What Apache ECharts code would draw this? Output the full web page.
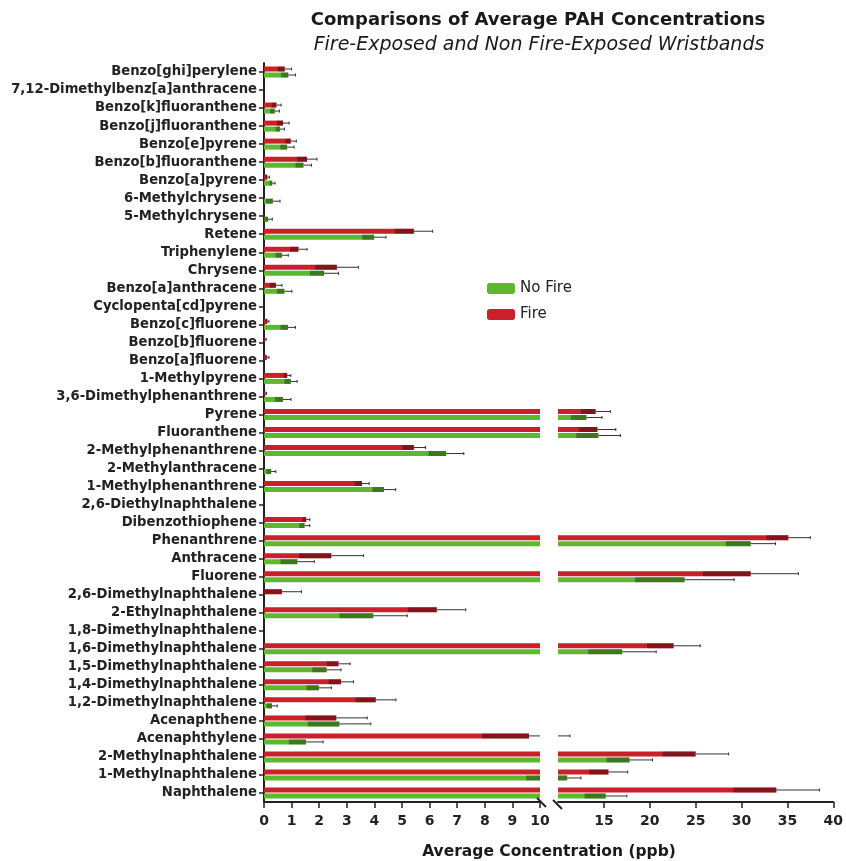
<!DOCTYPE html>
<html>
<head>
<meta charset="utf-8">
<script src="https://cdn.jsdelivr.net/npm/echarts@6/dist/echarts.min.js"></script>
<style>
  html, body { margin: 0; padding: 0; background: #fff; }
  #main { width: 846px; height: 861px; }
</style>
</head>
<body>
<div id="main"></div>
<script>
// compounds, top to bottom as in the figure
const categories = [
  'Benzo[ghi]perylene', '7,12-Dimethylbenz[a]anthracene', 'Benzo[k]fluoranthene',
  'Benzo[j]fluoranthene', 'Benzo[e]pyrene', 'Benzo[b]fluoranthene', 'Benzo[a]pyrene',
  '6-Methylchrysene', '5-Methylchrysene', 'Retene', 'Triphenylene', 'Chrysene',
  'Benzo[a]anthracene', 'Cyclopenta[cd]pyrene', 'Benzo[c]fluorene', 'Benzo[b]fluorene',
  'Benzo[a]fluorene', '1-Methylpyrene', '3,6-Dimethylphenanthrene', 'Pyrene',
  'Fluoranthene', '2-Methylphenanthrene', '2-Methylanthracene', '1-Methylphenanthrene',
  '2,6-Diethylnaphthalene', 'Dibenzothiophene', 'Phenanthrene', 'Anthracene', 'Fluorene',
  '2,6-Dimethylnaphthalene', '2-Ethylnaphthalene', '1,8-Dimethylnaphthalene',
  '1,6-Dimethylnaphthalene', '1,5-Dimethylnaphthalene', '1,4-Dimethylnaphthalene',
  '1,2-Dimethylnaphthalene', 'Acenaphthene', 'Acenaphthylene', '2-Methylnaphthalene',
  '1-Methylnaphthalene', 'Naphthalene'
]

const fireMean = [
  0.75, 0, 0.45, 0.69, 0.97, 1.56, 0.12, 0, 0, 5.43, 1.25, 2.64, 0.43, 0, 0.12, 0.04,
  0.1, 0.84, 0.05, 14.1, 14.3, 5.43, 0, 3.55, 0, 1.53, 35.1, 2.44, 31.0, 0.65, 6.26, 0,
  22.6, 2.7, 2.79, 4.05, 2.62, 9.6, 25.0, 15.5, 33.8
]
const fireErr = [
  0.25, 0, 0.17, 0.22, 0.2, 0.36, 0.08, 0, 0, 0.68, 0.31, 0.78, 0.22, 0, 0.06, 0.04,
  0.08, 0.13, 0.04, 1.6, 2.0, 0.42, 0, 0.26, 0, 0.13, 2.4, 1.17, 5.2, 0.71, 1.05, 0,
  2.9, 0.42, 0.45, 0.73, 1.12, 1.7, 3.6, 2.1, 4.7
]
const noFireMean = [
  0.88, 0, 0.39, 0.58, 0.84, 1.43, 0.3, 0.32, 0.15, 3.99, 0.65, 2.18, 0.74, 0, 0.87, 0,
  0, 0.97, 0.69, 13.1, 14.4, 6.6, 0.26, 4.35, 0, 1.47, 31.0, 1.21, 23.8, 0, 3.96, 0,
  17.0, 2.27, 1.99, 0.29, 2.73, 1.52, 17.8, 11.0, 15.2
]
const noFireErr = [
  0.26, 0, 0.17, 0.16, 0.25, 0.29, 0.1, 0.26, 0.15, 0.43, 0.23, 0.52, 0.27, 0, 0.27, 0,
  0, 0.23, 0.29, 1.7, 2.4, 0.64, 0.17, 0.42, 0, 0.19, 2.7, 0.61, 5.4, 0, 1.23, 0,
  3.7, 0.52, 0.45, 0.19, 1.14, 0.62, 2.5, 1.5, 2.3
]

const leftTicks = [0, 1, 2, 3, 4, 5, 6, 7, 8, 9, 10]
const rightTicks = [15, 20, 25, 30, 35, 40]

const GREEN = '#5db830'
const RED = '#c9202a'
const FONT = 'DejaVu Sans, Verdana, sans-serif'
const BAR_W = 5
const G0 = { left: 264, top: 63, width: 276, height: 739 }
const G1 = { left: 558, top: 63, width: 277, height: 739 }

let myChart = echarts.init(document.getElementById('main'))

// error bar: dark band for the lower half (inside the bar), thin whisker + cap above
function errItem(offset) {
  return function (params, api) {
    const v = api.value(0), cat = api.value(1), e = api.value(2)
    if (!e) return
    const cs = params.coordSys
    const x0 = cs.x, x1 = cs.x + cs.width
    const clamp = x => Math.max(x0, Math.min(x1, x))
    const pm = api.coord([v, cat])
    const plo = api.coord([v - e, cat])
    const phi = api.coord([v + e, cat])
    if (phi[0] <= x0 || plo[0] >= x1) return
    const y = pm[1] + offset
    const lo = clamp(plo[0]), m = clamp(pm[0]), hi = clamp(phi[0])
    const children = []
    if (m > lo) {
      children.push({
        type: 'rect',
        shape: { x: lo, y: y - BAR_W / 2, width: m - lo, height: BAR_W },
        style: { fill: 'rgba(0,0,0,0.35)' }
      })
    }
    if (hi > m) {
      children.push({
        type: 'line',
        shape: { x1: m, y1: y, x2: hi, y2: y },
        style: { stroke: '#333', lineWidth: 1 }
      })
    }
    if (phi[0] <= x1) {
      children.push({
        type: 'line',
        shape: { x1: hi, y1: y - 1.5, x2: hi, y2: y + 1.5 },
        style: { stroke: '#333', lineWidth: 1 }
      })
    }
    return { type: 'group', children: children }
  }
}

const errData = (mean, err) => mean.map((v, i) => [v, i, err[i]])
const over10 = arr => arr.map(v => (v > 10 ? v : null))

const yLabel = {
  fontFamily: FONT, fontWeight: 'bold', fontSize: 13.2, color: '#222', margin: 7
}
const xLabel = {
  fontFamily: FONT, fontWeight: 'bold', fontSize: 14, color: '#222', margin: 12
}
const axisLine = { show: true, lineStyle: { color: '#222', width: 2 } }
const axisTick = { show: true, length: 6, lineStyle: { color: '#222', width: 1.5 } }

const bottomY = G0.top + G0.height
const breakX0 = G0.left + G0.width
const breakX1 = G1.left

myChart.setOption({
  animation: false,
  backgroundColor: '#fff',
  grid: [
    Object.assign({ containLabel: false }, G0),
    Object.assign({ containLabel: false }, G1)
  ],
  legend: {
    orient: 'vertical',
    left: 482,
    top: 276,
    itemWidth: 28,
    itemHeight: 11,
    itemGap: 11,
    textStyle: { fontFamily: FONT, fontSize: 15, color: '#222' },
    data: ['No Fire', 'Fire']
  },
  xAxis: [
    {
      gridIndex: 0, type: 'value', min: 0, max: 10, interval: 1,
      splitLine: { show: false }, axisLine, axisTick,
      axisLabel: Object.assign({ customValues: leftTicks }, xLabel)
    },
    {
      gridIndex: 1, type: 'value', min: 10, max: 40, interval: 5,
      splitLine: { show: false }, axisLine,
      axisTick: Object.assign({ customValues: rightTicks }, axisTick),
      axisLabel: Object.assign({ customValues: rightTicks }, xLabel)
    }
  ],
  yAxis: [
    {
      gridIndex: 0, type: 'category', data: categories, inverse: true,
      axisLine, axisTick: { show: true, length: 5, alignWithLabel: true, lineStyle: { color: '#222', width: 1.5 } },
      axisLabel: Object.assign({ interval: 0 }, yLabel)
    },
    {
      gridIndex: 1, type: 'category', data: categories, inverse: true, show: false
    }
  ],
  series: [
    {
      name: 'Fire', type: 'bar', xAxisIndex: 0, yAxisIndex: 0,
      data: fireMean, barWidth: BAR_W, barGap: '20%', itemStyle: { color: RED }
    },
    {
      name: 'No Fire', type: 'bar', xAxisIndex: 0, yAxisIndex: 0,
      data: noFireMean, barWidth: BAR_W, barGap: '20%', itemStyle: { color: GREEN }
    },
    {
      name: 'Fire', type: 'bar', xAxisIndex: 1, yAxisIndex: 1,
      data: over10(fireMean), barWidth: BAR_W, barGap: '20%', itemStyle: { color: RED }
    },
    {
      name: 'No Fire', type: 'bar', xAxisIndex: 1, yAxisIndex: 1,
      data: over10(noFireMean), barWidth: BAR_W, barGap: '20%', itemStyle: { color: GREEN }
    },
    {
      type: 'custom', xAxisIndex: 0, yAxisIndex: 0, z: 5,
      renderItem: errItem(-3), data: errData(fireMean, fireErr)
    },
    {
      type: 'custom', xAxisIndex: 0, yAxisIndex: 0, z: 5,
      renderItem: errItem(3), data: errData(noFireMean, noFireErr)
    },
    {
      type: 'custom', xAxisIndex: 1, yAxisIndex: 1, z: 5,
      renderItem: errItem(-3), data: errData(fireMean, fireErr)
    },
    {
      type: 'custom', xAxisIndex: 1, yAxisIndex: 1, z: 5,
      renderItem: errItem(3), data: errData(noFireMean, noFireErr)
    }
  ],
  graphic: [
    {
      type: 'text', x: 538, y: 11, z: 10,
      style: {
        text: 'Comparisons of Average PAH Concentrations', textAlign: 'center',
        font: 'bold 18px ' + FONT, fill: '#1a1a1a'
      }
    },
    {
      type: 'text', x: 539, y: 36, z: 10,
      style: {
        text: 'Fire-Exposed and Non Fire-Exposed Wristbands', textAlign: 'center',
        font: 'italic 19px ' + FONT, fill: '#1a1a1a'
      }
    },
    {
      type: 'text', x: 549, y: 844, z: 10,
      style: {
        text: 'Average Concentration (ppb)', textAlign: 'center',
        font: 'bold 15.5px ' + FONT, fill: '#1a1a1a'
      }
    },
    {
      type: 'rect', z: 9,
      shape: { x: breakX0 + 1, y: bottomY - 4, width: breakX1 - breakX0 - 2, height: 8 },
      style: { fill: '#fff' }
    },
    {
      type: 'line', z: 10,
      shape: { x1: breakX0 - 3, y1: bottomY - 4, x2: breakX0 + 6, y2: bottomY + 5 },
      style: { stroke: '#222', lineWidth: 2 }
    },
    {
      type: 'line', z: 10,
      shape: { x1: breakX1 - 5, y1: bottomY - 2, x2: breakX1 + 4, y2: bottomY + 7 },
      style: { stroke: '#222', lineWidth: 2 }
    }
  ]
})
</script>
</body>
</html>
